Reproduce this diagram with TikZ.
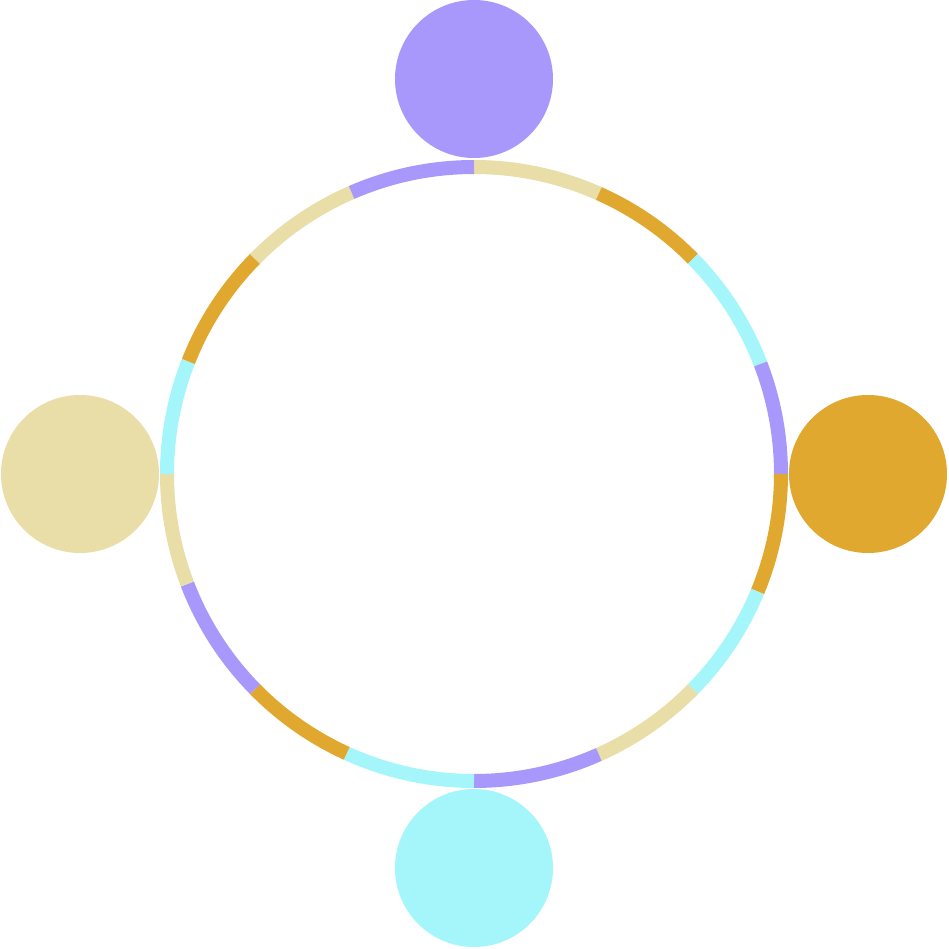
\documentclass[tikz,border=0pt]{standalone}
\usepackage{tikz}
\usepackage{xcolor}
\usetikzlibrary{positioning}
\definecolor{lilac}{HTML}{A998FC}
\definecolor{amber}{HTML}{E1A830}
\definecolor{sand}{HTML}{E9DDA8}
\definecolor{aqua}{HTML}{A5F6FB}
\tikzset{
  hub/.style={circle, draw=none, minimum size=4.74cm, inner sep=0pt},
  ringseg/.style={line width=0.42cm, line cap=butt}
}
\begin{document}
\begin{tikzpicture}[x=0.03cm,y=0.03cm]
    \useasboundingbox (-474,-475) rectangle (474,474);
    % ring segments, clockwise from the top
    \foreach \a/\b/\col in {90/66/sand,66/44.5/amber,44.5/21/aqua,21/0/lilac,
                            0/-22.5/amber,-22.5/-44.5/aqua,-44.5/-66/sand,-66/-90/lilac,
                            -90/-114.5/aqua,-114.5/-135.5/amber,-135.5/-159/lilac,-159/-180/sand,
                            180/158.5/aqua,158.5/135.5/amber,135.5/113.5/sand,113.5/90/lilac}{
      \draw[ringseg,draw=\col] (\a:307) arc[start angle=\a, end angle=\b, radius=307];
    }
    % four hubs
    \node[hub,fill=lilac] (top) at (0,395) {};
    \node[hub,fill=amber] (right) at (394,0) {};
    \node[hub,fill=aqua] (bottom) at (0,-394) {};
    \node[hub,fill=sand] (left) at (-394,0) {};
\end{tikzpicture}
\end{document}
